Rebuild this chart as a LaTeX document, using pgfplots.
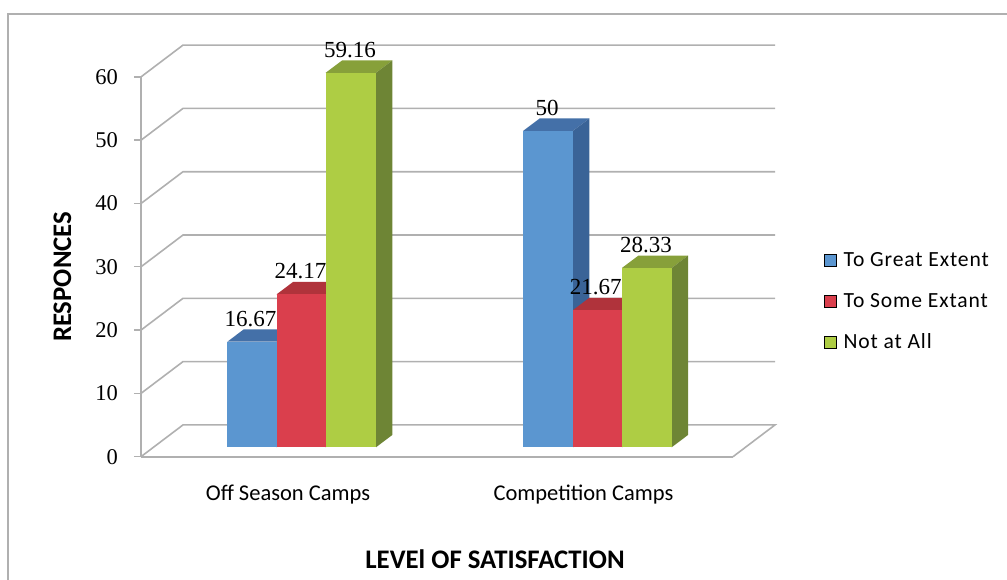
\documentclass[border=0pt]{standalone}
\usepackage{fontspec}
\usepackage{pgfplots}
\pgfplotsset{compat=1.18}
\setmainfont{Carlito}
\newfontfamily\numfont{Liberation Serif}
\newfontfamily\legendfont[LetterSpace=4]{Carlito}

\definecolor{wallgray}{HTML}{B0B0B0}
\definecolor{bluefront}{HTML}{5B96D0}
\definecolor{bluetop}{HTML}{4470A8}
\definecolor{blueside}{HTML}{3A6397}
\definecolor{redfront}{HTML}{DA3F4D}
\definecolor{redtop}{HTML}{B0333B}
\definecolor{redside}{HTML}{8E2A31}
\definecolor{greenfront}{HTML}{AECD44}
\definecolor{greentop}{HTML}{87A03A}
\definecolor{greenside}{HTML}{6E8535}

% x0, x1, value, colour prefix
\newcommand{\threedbar}[4]{%
  \pgfmathsetmacro{\ya}{1.49}%
  \pgfmathsetmacro{\yb}{#3+1.49}%
  \pgfmathsetmacro{\yc}{#3+1.49+1.94}%
  \pgfmathsetmacro{\yd}{1.49+1.94}%
  \pgfmathsetmacro{\xc}{#2+16.3}%
  \pgfmathsetmacro{\xd}{#1+16.3}%
  \addplot[fill=#4top, draw=none, forget plot] coordinates {(#1,\yb) (#2,\yb) (\xc,\yc) (\xd,\yc)} -- cycle;
  \addplot[fill=#4side, draw=none, forget plot] coordinates {(#2,\ya) (\xc,\yd) (\xc,\yc) (#2,\yb)} -- cycle;
  \addplot[fill=#4front, draw=none, forget plot] coordinates {(#1,\ya) (#2,\ya) (#2,\yb) (#1,\yb)} -- cycle;
}

\pgfplotstableread{
x y label
250.5 16.67 16.67
300.5 24.17 24.17
350 59.16 59.16
547 50 50
595.7 21.67 21.67
646 28.33 28.33
}\labeltable

\begin{document}
\begin{tikzpicture}[x=1pt,y=1pt]
  \path[use as bounding box] (0,0) rectangle (1007,580);
  \draw[wallgray, line width=1.7pt] (1007,566) -- (8,566) -- (8,0);
  \begin{axis}[
    at={(141pt,123.3pt)}, anchor=south west,
    scale only axis, width=592pt, height=379.8pt,
    xmin=141, xmax=733, ymin=0, ymax=60,
    clip=false,
    axis x line=bottom, axis y line=left,
    axis line style={-, wallgray, line width=1.7pt},
    xtick={288,583.5},
    xticklabels={Off Season Camps, Competition Camps},
    ytick={0,10,...,60},
    major tick length=7pt,
    x tick style={draw=none},
    y tick style={wallgray, line width=1.4pt},
    tick align=outside,
    x tick label style={font=\fontsize{22.5}{24}\selectfont, anchor=center, yshift=-31pt},
    y tick label style={font=\numfont\fontsize{22.5}{24}\selectfont, anchor=east, inner sep=0pt, xshift=-16pt},
    /pgf/number format/assume math mode=true,
    xlabel={LEVEl OF SATISFACTION},
    ylabel={RESPONCES},
    xlabel style={font=\bfseries\fontsize{26.8}{28}\selectfont, at={(axis description cs:0.598,-0.27)}, anchor=center},
    ylabel style={font=\bfseries\fontsize{26.8}{28}\selectfont, at={(axis description cs:-0.1326,0.4736)}, anchor=center, rotate=0},
    legend cell align=left,
    legend style={draw=none, fill=none, at={(axis cs:824,32.55)}, anchor=north west,
      font=\legendfont\fontsize{21.6}{23}\selectfont, /tikz/row sep=21pt, inner sep=0pt},
    legend image code/.code={\fill[#1] (0pt,-6pt) rectangle (12pt,6pt); \path (17pt,0pt);},
  ]
  % back wall and side wall grid
  \addplot[wallgray, line width=1.6pt, forget plot] coordinates {(141,0) (183,5.02) (775,5.02) (733,0)};
  \addplot[wallgray, line width=1.6pt, forget plot] coordinates {(141,10) (183,15.02) (775,15.02)};
  \addplot[wallgray, line width=1.6pt, forget plot] coordinates {(141,20) (183,25.02) (775,25.02)};
  \addplot[wallgray, line width=1.6pt, forget plot] coordinates {(141,30) (183,35.02) (775,35.02)};
  \addplot[wallgray, line width=1.6pt, forget plot] coordinates {(141,40) (183,45.02) (775,45.02)};
  \addplot[wallgray, line width=1.6pt, forget plot] coordinates {(141,50) (183,55.02) (775,55.02)};
  \addplot[wallgray, line width=1.6pt, forget plot] coordinates {(141,60) (183,65.02) (775,65.02)};

  \threedbar{227.3}{276.7}{16.67}{blue}
  \threedbar{276.7}{325.7}{24.17}{red}
  \threedbar{325.7}{376}{59.16}{green}
  \threedbar{523.3}{573}{50}{blue}
  \threedbar{573}{622}{21.67}{red}
  \threedbar{622}{671.7}{28.33}{green}

  \addplot[draw=none, mark=none, forget plot,
    nodes near coords, point meta=explicit symbolic,
    every node near coord/.append style={font=\numfont\fontsize{23}{25}\selectfont, anchor=center, yshift=32.5pt, inner sep=0pt}]
    table[x=x, y=y, meta=label] {\labeltable};

  \addlegendimage{fill=bluefront}
  \addlegendentry{To Great Extent}
  \addlegendimage{fill=redfront}
  \addlegendentry{To Some Extant}
  \addlegendimage{fill=greenfront}
  \addlegendentry{Not at All}
  \end{axis}
\end{tikzpicture}
\end{document}
